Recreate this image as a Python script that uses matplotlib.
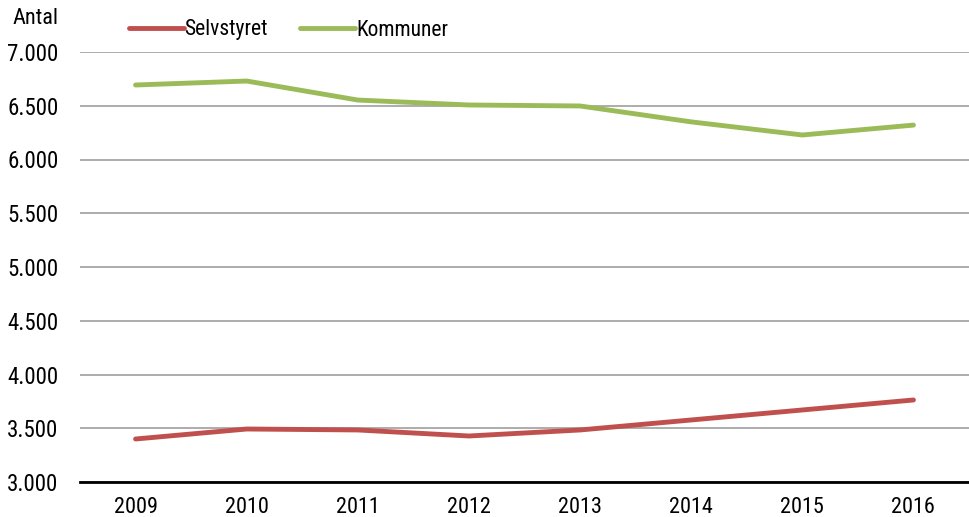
import matplotlib
matplotlib.use("Agg")
import matplotlib.pyplot as plt
from matplotlib import font_manager

years = ["2009", "2010", "2011", "2012", "2013", "2014", "2015", "2016"]
selvstyret = [3400, 3493, 3484, 3428, 3484, 3577, 3670, 3763]
kommuner = [6693, 6730, 6553, 6507, 6498, 6350, 6228, 6320]
yticks = [3000, 3500, 4000, 4500, 5000, 5500, 6000, 6500, 7000]
ytick_labels = ["3.000", "3.500", "4.000", "4.500", "5.000", "5.500", "6.000", "6.500", "7.000"]

# look for a condensed sans face
cands = []
for f in font_manager.fontManager.ttflist:
    st = str(f.stretch).lower()
    nm = f.name.lower()
    if ("condensed" in st or "condensed" in nm or "narrow" in nm or st in ("condensed", "semi-condensed")) \
            and f.style == "normal" and f.weight in (400, "normal", "regular"):
        cands.append(f)
fp = None
pref = ["roboto", "open sans", "noto sans", "liberation", "dejavu sans"]
for p in pref:
    for f in cands:
        if f.name.lower().startswith(p) and "mono" not in f.name.lower() and "serif" not in f.name.lower():
            fp = font_manager.FontProperties(fname=f.fname)
            break
    if fp is not None:
        break
if fp is None:
    fp = font_manager.FontProperties(family="DejaVu Sans")

fig = plt.figure(figsize=(9.69, 5.17), dpi=100)
ax = fig.add_axes([80/969, 1-482/517, 1-80/969, (482-52)/517])

x = list(range(len(years)))
ax.plot(x, selvstyret, color="#c0504d", lw=3.5, solid_capstyle="round", label="Selvstyret", zorder=3)
ax.plot(x, kommuner, color="#9bbb59", lw=3.5, solid_capstyle="round", label="Kommuner", zorder=3)

ax.set_xlim(-0.5, len(years) - 0.5)
ax.set_ylim(3000, 7000)
ax.set_yticks(yticks)
ax.set_yticklabels(ytick_labels)
ax.set_xticks(x)
ax.set_xticklabels(years)
ax.grid(axis="y", color="#a6a6a6", lw=1.3)
ax.set_axisbelow(True)
for s in ["top", "right", "left"]:
    ax.spines[s].set_visible(False)
ax.spines["bottom"].set_color("black")
ax.spines["bottom"].set_linewidth(2)
ax.spines["bottom"].set_zorder(4)
ax.tick_params(axis="both", length=0, colors="black")
ax.tick_params(axis="x", pad=11)

def mkfp(size):
    p = fp.copy()
    p.set_size(size)
    return p

for lab in ax.get_yticklabels():
    lab.set_fontproperties(mkfp(16.5))
    lab.set_horizontalalignment("left")
    lab.set_x(-68/889)
for lab in ax.get_xticklabels():
    lab.set_fontproperties(mkfp(16))

fig.text(12/969, 1-18/517, "Antal", fontproperties=mkfp(16), va="center", ha="left")

leg = ax.legend(loc="center left", bbox_to_anchor=(40/889, 1 + 22/430), ncol=2, frameon=False,
                prop=mkfp(15.5), handlelength=2.55, handletextpad=0.05, columnspacing=1.5,
                borderaxespad=0)

fig.savefig("out.png", dpi=100)
